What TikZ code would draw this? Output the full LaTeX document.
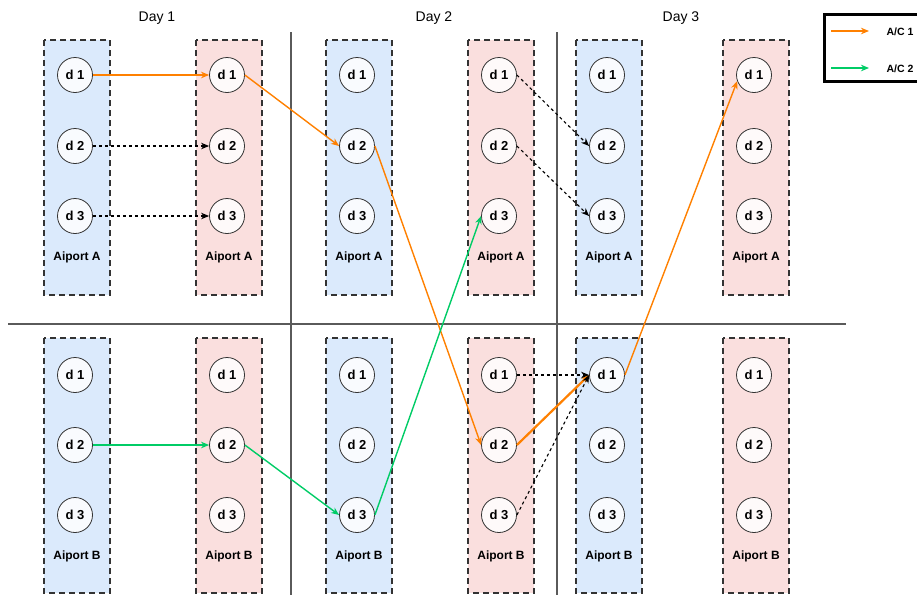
\documentclass[tikz,border=0pt]{standalone}
\usepackage{fontspec}
\setmainfont{Liberation Sans}
\usetikzlibrary{arrows.meta}
\definecolor{paneblue}{RGB}{219,234,252}
\definecolor{panepink}{RGB}{250,223,222}
\definecolor{acone}{RGB}{255,128,0}
\definecolor{actwo}{RGB}{0,204,102}
\definecolor{divider}{RGB}{90,90,90}
\definecolor{rim}{RGB}{51,51,51}

\begin{document}
\begin{tikzpicture}[x=1pt,y=-1pt,
  pane/.style={draw=rim, line width=2pt, dash pattern=on 6pt off 4pt},
  slot/.style={circle, draw=rim, line width=0.8pt, fill=white, fill opacity=0.85,
    text opacity=1, minimum size=35pt, inner sep=0pt,
    font=\fontsize{13}{15}\selectfont\bfseries},
  portlbl/.style={font=\fontsize{12}{14}\selectfont\bfseries},
  daylbl/.style={font=\fontsize{14}{16}\selectfont},
  keylbl/.style={font=\fontsize{10.5}{12}\selectfont\bfseries},
  tip/.style={-{Stealth[length=8pt,width=6.5pt,inset=2.5pt]}},
  flightone/.style={tip, draw=acone, line width=1.4pt},
  flighttwo/.style={tip, draw=actwo, line width=1.4pt},
  idle/.style={tip, draw=black, line width=1.1pt, dash pattern=on 3pt off 3pt},
]
\useasboundingbox (0,0) rectangle (917,595);

% grid separating days and airports
\draw[divider, line width=1.2pt] (8,324) -- (846,324);
\draw[divider, line width=1.2pt] (291,32) -- (291,595);
\draw[divider, line width=1.2pt] (557,32) -- (557,595);

% day headings
\node[daylbl] (day1) at (157,18) {Day 1};
\node[daylbl] (day2) at (434,18) {Day 2};
\node[daylbl] (day3) at (681,18) {Day 3};

% slot columns: departures (blue) and arrivals (pink) for each airport
\foreach \c/\x/\f in {1/44/paneblue,2/196/panepink,3/326/paneblue,
                      4/468/panepink,5/576/paneblue,6/723/panepink} {
  \draw[pane, fill=\f] (\x,40) rectangle ++(66,255);
  \draw[pane, fill=\f] (\x,338) rectangle ++(66,255);
  \node[slot] (a\c1) at (\x+31,75) {d 1};
  \node[slot] (a\c2) at (\x+31,146) {d 2};
  \node[slot] (a\c3) at (\x+31,216) {d 3};
  \node[slot] (b\c1) at (\x+31,375) {d 1};
  \node[slot] (b\c2) at (\x+31,445) {d 2};
  \node[slot] (b\c3) at (\x+31,515) {d 3};
  \node[portlbl] (pa\c) at (\x+33,257) {Aiport A};
  \node[portlbl] (pb\c) at (\x+33,556) {Aiport B};
}

% aircraft 1 route
\draw[flightone] (a11.east) -- (a21.west);
\draw[flightone] (a21.east) -- (a32.west);
\draw[flightone] (a32.east) -- (b42.west);
\draw[flightone, line width=2.2pt] (b42.east) -- (b51.west);
\draw[flightone] (b51.east) -- (a61.200);

% aircraft 2 route
\draw[flighttwo] (b12.east) -- (b22.west);
\draw[flighttwo] (b22.east) -- (b33.west);
\draw[flighttwo] (b33.east) -- (a43.west);

% ground arcs
\draw[idle] (a12.east) -- (a22.west);
\draw[idle] (a13.east) -- (a23.west);
\draw[idle] (a41.east) -- (a52.west);
\draw[idle] (a42.east) -- (a53.west);
\draw[idle] (b41.east) -- (b51.west);
\draw[idle] (b43.east) -- (b51.west);

% legend
\draw[black, line width=3pt] (824.5,14.5) rectangle (922,81.5);
\coordinate (k1s) at (831,31);
\coordinate (k1e) at (869,31);
\coordinate (k2s) at (831,68);
\coordinate (k2e) at (869,68);
\draw[flightone] (k1s) -- (k1e);
\draw[flighttwo] (k2s) -- (k2e);
\node[keylbl] (key1) at (900,32) {A/C 1};
\node[keylbl] (key2) at (900,68.5) {A/C 2};
\end{tikzpicture}
\end{document}
